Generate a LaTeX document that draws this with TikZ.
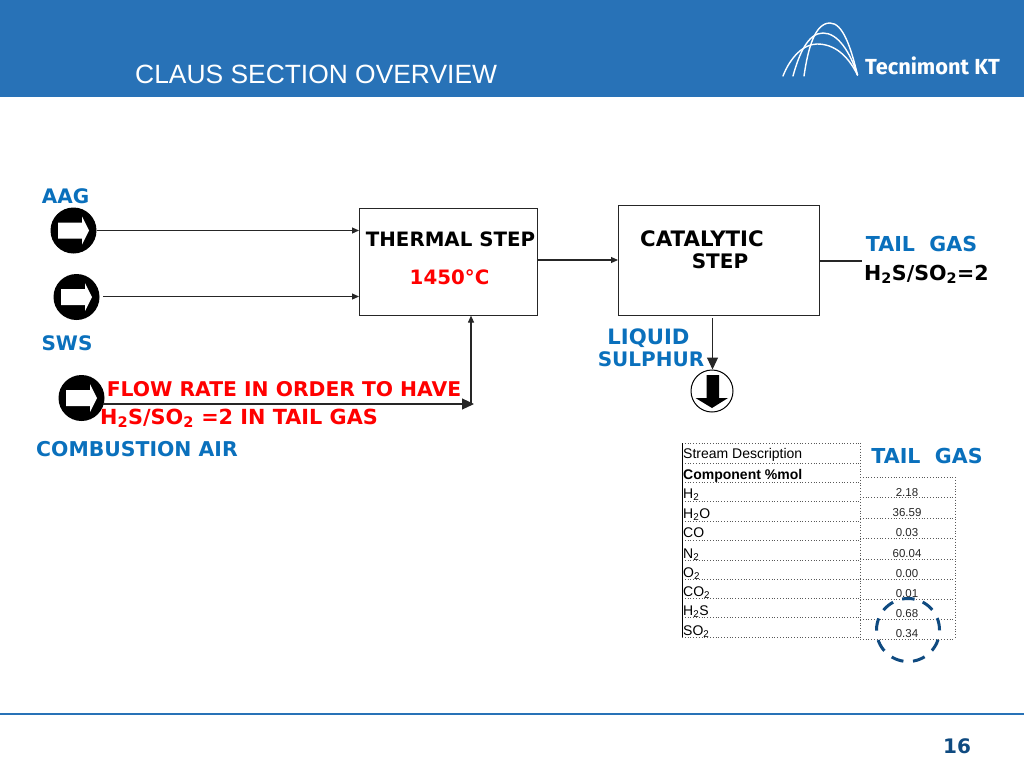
\documentclass[tikz,border=0pt]{standalone}
\usepackage{fontspec}
\setmainfont{DejaVu Sans}
\newfontfamily\arial{Liberation Sans}
\newfontfamily\logofont{Fira Sans}
\definecolor{headblue}{HTML}{2872B7}
\definecolor{lblue}{HTML}{0A70BC}
\definecolor{darkblue}{HTML}{0F4A80}
\newcommand{\fs}[1]{\fontsize{#1}{#1}\selectfont}
\usetikzlibrary{arrows.meta,calc}
\tikzset{
  lab/.style={inner sep=0pt,font=\fs{20}\bfseries,anchor=base,align=center},
  bluelab/.style={lab,text=lblue},
  redlab/.style={lab,text=red},
  blacklab/.style={lab,text=black},
  procbox/.style={draw=black!85,line width=1.1pt,inner sep=0pt,anchor=north west},
  line/.style={draw=black!85,line width=1.1pt},
  flow/.style={line,-{Triangle[length=7pt,width=6pt]}},
  bigflow/.style={line,-{Triangle[length=12pt,width=11pt]}},
  icon/.style={circle,fill=black,inner sep=0pt,minimum width=43pt,minimum height=43pt},
  tcell/.style={inner sep=0pt,font=\arial\fs{14},anchor=base west},
  vcell/.style={inner sep=0pt,font=\arial\fs{11.5},anchor=base,text=black!85},
  dots/.style={draw=black!65,line width=0.8pt,dotted},
}
\newcommand{\rightarrowicon}[2]{%
  \fill[white] (#1-15.5,#2-8) -- (#1+8.5,#2-8) -- (#1+8.5,#2-14) -- (#1+15.5,#2) -- (#1+8.5,#2+14) -- (#1+8.5,#2+8) -- (#1-15.5,#2+8) -- cycle;}
\begin{document}
\begin{tikzpicture}[x=1pt,y=-1pt]
\useasboundingbox (0,0) rectangle (1024,768);
\fill[headblue] (0,0) rectangle (1024,96.5);
\draw[headblue,line width=2pt] (0,714) -- (1024,714);
% header
\node[inner sep=0pt,anchor=base west,text=white,font=\arial\fs{26.4}] (title) at (135,83) {CLAUS SECTION OVERVIEW};
\node[inner sep=0pt,anchor=base west,text=white,font=\logofont\bfseries\fs{21.8}] (logo) at (865,74.5) {Tecnimont KT};
\begin{scope}[draw=white,line width=1.4pt,line cap=round]
\draw (804,76) .. controls (808,48) and (815,23) .. (830,23) .. controls (843,23) and (851,48) .. (857.5,75);
\draw (793,76) .. controls (799,54) and (808,33) .. (823,33) .. controls (838,33) and (850,52) .. (857.5,75);
\draw (783,76) .. controls (790,58) and (803,44) .. (817,44) .. controls (835,44) and (848,56) .. (857.5,75);
\end{scope}
% process boxes
\node[procbox,minimum width=178pt,minimum height=106.5pt] (thermal) at (359,208) {};
\node[procbox,minimum width=201pt,minimum height=109.5pt] (catalytic) at (618,205) {};
% stream icons
\node[icon,minimum width=43pt,minimum height=46pt] (aag) at (73.5,230.5) {};
\node[icon,minimum width=43pt,minimum height=46pt] (sws) at (76.5,297) {};
\node[icon,minimum width=43pt,minimum height=46pt] (air) at (81.5,398) {};
\rightarrowicon{73.5}{230.5}
\rightarrowicon{76.5}{297}
\rightarrowicon{81.5}{398}
\node[circle,draw=black,line width=1pt,fill=white,minimum size=42pt,inner sep=0pt] (sulphur) at (712,391) {};
\fill[black] (706.5,375) -- (719,375) -- (719,398) -- (728,398) -- (712,408) -- (695.5,398) -- (706.5,398) -- cycle;
% free ends
\coordinate (tailend) at (862,261);
\coordinate (aircorner) at (471,404);
\coordinate (airstart) at (103,404);
\coordinate (swsstart) at (103,296.5);
\coordinate (sulstart) at (712.5,318);
% connectors
\draw[flow] (aag.east) -- (aag.east -| thermal.west);
\draw[flow] (swsstart) -- (swsstart -| thermal.west);
\draw[flow] (thermal.east |- 0,260) -- (catalytic.west |- 0,260);
\draw[line] (catalytic.east |- tailend) -- (tailend);
\draw[bigflow] (sulstart) -- (sulphur.north -| sulstart);
\draw[bigflow] (airstart) -- ($(aircorner)+(3,0)$);
\draw[flow] (aircorner) -- (aircorner |- thermal.south);
% labels
\node[bluelab] (laag) at (65.5,203.5) {AAG};
\node[bluelab] (lsws) at (67,350.5) {SWS};
\node[bluelab,font=\fs{20.4}\bfseries] (lair) at (137,456) {COMBUSTION AIR};
\node[blacklab,font=\fs{19.8}\bfseries] (lth) at (450.5,246) {THERMAL STEP};
\node[redlab,font=\fs{19.8}\bfseries] (lt) at (449.5,284) {1450°C};
\node[blacklab,font=\fs{21.3}\bfseries] (lc1) at (702,246) {CATALYTIC};
\node[blacklab] (lc2) at (720,268) {STEP};
\node[bluelab,font=\fs{20.6}\bfseries] (ltail) at (921.5,251) {TAIL\ \ GAS};
\node[blacklab,font=\fs{20.6}\bfseries] (lratio) at (926.5,280) {H\textsubscript{2}S/SO\textsubscript{2}=2};
\node[bluelab,font=\fs{21.2}\bfseries] (ll1) at (648.5,344) {LIQUID};
\node[bluelab] (ll2) at (651,366) {SULPHUR};
\node[redlab,font=\fs{20.3}\bfseries] (lf1) at (284,396) {FLOW RATE IN ORDER TO HAVE};
\node[redlab,font=\fs{20.8}\bfseries] (lf2) at (239,424) {H\textsubscript{2}S/SO\textsubscript{2} =2 IN TAIL GAS};
\node[bluelab,font=\fs{20.6}\bfseries] (ltail2) at (927,463) {TAIL\ \ GAS};
\node[lab,font=\fs{20}\bfseries,text=darkblue] (pg) at (957,753) {16};
% table
\foreach \y in {443.3,463.3,482.3,501.7,521,540.3,560,579,598.3,617.7,637.3}
  \draw[dots] (682,\y) -- (860,\y);
\foreach \y in {477.3,497.7,518.3,538.3,559,579.3,599.3,619.3,639.3}
  \draw[dots] (860,\y) -- (955,\y);
\draw[dots] (860,443.3) -- (860,639.3);
\draw[dots] (955,477.3) -- (955,639.3);
\draw[black,line width=0.9pt] (682,443.3) -- (682,637.3);
\node[tcell] (r0) at (683,458) {Stream Description};
\node[tcell,font=\arial\bfseries\fs{14}] (r1) at (683,479) {Component \%mol};
\node[tcell] (r2) at (683,498) {H\textsubscript{2}};
\node[tcell] (r3) at (683,518) {H\textsubscript{2}O};
\node[tcell] (r4) at (683,537.5) {CO};
\node[tcell] (r5) at (683,558) {N\textsubscript{2}};
\node[tcell] (r6) at (683,577) {O\textsubscript{2}};
\node[tcell] (r7) at (683,596) {CO\textsubscript{2}};
\node[tcell] (r8) at (683,615.5) {H\textsubscript{2}S};
\node[tcell] (r9) at (683,635) {SO\textsubscript{2}};
\node[vcell] (v2) at (907,496) {2.18};
\node[vcell] (v3) at (907,516) {36.59};
\node[vcell] (v4) at (907,536.5) {0.03};
\node[vcell] (v5) at (907,557) {60.04};
\node[vcell] (v6) at (907,577) {0.00};
\node[vcell] (v7) at (907,597) {0.01};
\node[vcell] (v8) at (907,617) {0.68};
\node[vcell] (v9) at (907,637.5) {0.34};
\node[circle,draw=darkblue,line width=3pt,dash pattern=on 12.5pt off 9.6pt,minimum size=63pt,inner sep=0pt,rotate=78] (ring) at (908,630) {};
\end{tikzpicture}
\end{document}
